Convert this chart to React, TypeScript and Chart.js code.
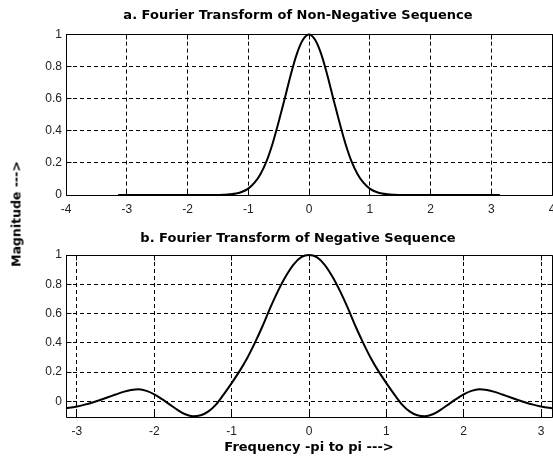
import React, { useEffect, useRef } from "react";
import { Chart, registerables } from "chart.js";

Chart.register(...registerables);

const titleA = "a. Fourier Transform of Non-Negative Sequence";
const titleB = "b. Fourier Transform of Negative Sequence";
const yLabel = "Magnitude --->";
const xLabel = "Frequency -pi to pi --->";

const topXTicks = [-4, -3, -2, -1, 0, 1, 2, 3, 4];
const topYTicks = [0, 0.2, 0.4, 0.6, 0.8, 1];
const bottomXTicks = [-3, -2, -1, 0, 1, 2, 3];
const bottomYTicks = [0, 0.2, 0.4, 0.6, 0.8, 1];

const topFreq = [
  -3.1416, -3.0, -2.5, -2.0, -1.5, -1.4, -1.3, -1.2, -1.1, -1.0, -0.9, -0.8, -0.7, -0.6, -0.5, -0.4, -0.3, -0.2, -0.1,
  0,
  0.1, 0.2, 0.3, 0.4, 0.5, 0.6, 0.7, 0.8, 0.9, 1.0, 1.1, 1.2, 1.3, 1.4, 1.5, 2.0, 2.5, 3.0, 3.1416,
];
const topMag = [
  0, 0, 0, 0, 0, 0.0015, 0.004, 0.009, 0.02, 0.04, 0.075, 0.13, 0.21, 0.32, 0.455, 0.6, 0.75, 0.88, 0.968,
  1,
  0.968, 0.88, 0.75, 0.6, 0.455, 0.32, 0.21, 0.13, 0.075, 0.04, 0.02, 0.009, 0.004, 0.0015, 0, 0, 0, 0, 0,
];

const bottomFreq = [
  -3.1416, -3.1, -3.0, -2.9, -2.8, -2.7, -2.6, -2.5, -2.4, -2.3, -2.2, -2.1, -2.0, -1.9, -1.8, -1.7, -1.6, -1.5,
  -1.4, -1.3, -1.2, -1.1, -1.0, -0.9, -0.8, -0.7, -0.6, -0.5, -0.4, -0.3, -0.2, -0.1,
  0,
  0.1, 0.2, 0.3, 0.4, 0.5, 0.6, 0.7, 0.8, 0.9, 1.0, 1.1, 1.2, 1.3, 1.4, 1.5, 1.6, 1.7, 1.8, 1.9, 2.0, 2.1, 2.2,
  2.3, 2.4, 2.5, 2.6, 2.7, 2.8, 2.9, 3.0, 3.1, 3.1416,
];
const bottomMag = [
  -0.046, -0.044, -0.035, -0.022, -0.007, 0.01, 0.028, 0.047, 0.065, 0.078, 0.083, 0.072, 0.048, 0.015, -0.022,
  -0.058, -0.088, -0.102, -0.095, -0.068, -0.02, 0.05, 0.125, 0.205, 0.295, 0.4, 0.515, 0.64, 0.755, 0.855, 0.935,
  0.985,
  1.0,
  0.985, 0.935, 0.855, 0.755, 0.64, 0.515, 0.4, 0.295, 0.205, 0.125, 0.05, -0.02, -0.068, -0.095, -0.102, -0.088,
  -0.058, -0.022, 0.015, 0.048, 0.072, 0.083, 0.078, 0.065, 0.047, 0.028, 0.01, -0.007, -0.022, -0.035, -0.044,
  -0.046,
];

const TICK_FONT = { family: "Liberation Sans", size: 12 };
const BOLD_FONT = { family: "DejaVu Sans", size: 13, weight: "bold" as const };

const align = (p: number) => Math.round(p - 0.5) + 0.5;

const boxPlugin = {
  id: "matlabBox",
  afterLayout(chart: any) {
    const tb = chart.titleBlock;
    if (tb) {
      tb.left = 44;
      tb.right = chart.chartArea.right;
    }
  },
  afterDatasetsDraw(chart: any) {
    const { ctx, chartArea } = chart;
    const L = align(chartArea.left);
    const R = align(chartArea.right);
    const T = align(chartArea.top);
    const B = align(chartArea.bottom);
    const len = 5;
    ctx.save();
    ctx.strokeStyle = "#000";
    ctx.lineWidth = 1;
    ctx.setLineDash([]);
    ctx.beginPath();
    ctx.rect(L, T, R - L, B - T);
    const xs = chart.scales.x;
    xs.ticks.forEach((t: any) => {
      const px = align(xs.getPixelForValue(t.value));
      ctx.moveTo(px, B);
      ctx.lineTo(px, B - len);
      ctx.moveTo(px, T);
      ctx.lineTo(px, T + len);
    });
    const ys = chart.scales.y;
    ys.ticks.forEach((t: any) => {
      const py = align(ys.getPixelForValue(t.value));
      ctx.moveTo(L, py);
      ctx.lineTo(L + len, py);
      ctx.moveTo(R, py);
      ctx.lineTo(R - len, py);
    });
    ctx.stroke();
    ctx.restore();
  },
};

type PanelCfg = {
  freq: number[];
  mag: number[];
  xMin: number;
  xMax: number;
  yMin: number;
  yMax: number;
  xTicks: number[];
  yTicks: number[];
  title: string;
  titlePadTop: number;
  titlePadBottom: number;
  xAxisHeight: number;
  xTitle?: string;
};

function buildConfig(p: PanelCfg): any {
  return {
    type: "line",
    data: {
      datasets: [
        {
          data: p.freq.map((f, i) => ({ x: f, y: p.mag[i] })),
          borderColor: "#000",
          borderWidth: 2,
          pointRadius: 0,
          fill: false,
          cubicInterpolationMode: "monotone",
          clip: false,
        },
      ],
    },
    options: {
      animation: false,
      responsive: false,
      maintainAspectRatio: false,
      events: [],
      layout: { padding: { left: 0, right: 28, top: 0, bottom: 0 } },
      plugins: {
        legend: { display: false },
        tooltip: { enabled: false },
        title: {
          display: true,
          text: p.title,
          color: "#000",
          font: BOLD_FONT,
          padding: { top: p.titlePadTop, bottom: p.titlePadBottom },
        },
      },
      scales: {
        x: {
          type: "linear",
          min: p.xMin,
          max: p.xMax,
          afterBuildTicks: (s: any) => {
            s.ticks = p.xTicks.map((v) => ({ value: v }));
          },
          afterFit: (s: any) => {
            s.height = p.xAxisHeight;
          },
          grid: { color: "#000", lineWidth: 1, drawTicks: false },
          border: { display: false, dash: [4, 3] },
          ticks: {
            padding: 7,
            color: "#222",
            font: TICK_FONT,
            maxRotation: 0,
            autoSkip: false,
            callback: (v: any) => String(v),
          },
          title: p.xTitle
            ? { display: true, text: p.xTitle, color: "#000", font: BOLD_FONT, padding: { top: 0, bottom: 6 } }
            : { display: false },
        },
        y: {
          type: "linear",
          min: p.yMin,
          max: p.yMax,
          afterBuildTicks: (s: any) => {
            s.ticks = p.yTicks.map((v) => ({ value: v }));
          },
          afterFit: (s: any) => {
            s.width = 66;
          },
          grid: { color: "#000", lineWidth: 1, drawTicks: false },
          border: { display: false, dash: [4, 3] },
          ticks: {
            padding: 4,
            color: "#222",
            font: TICK_FONT,
            autoSkip: false,
            callback: (v: any) => String(v),
          },
        },
      },
    },
    plugins: [boxPlugin],
  };
}

export default function App() {
  const topRef = useRef<HTMLCanvasElement>(null);
  const bottomRef = useRef<HTMLCanvasElement>(null);

  useEffect(() => {
    const top = new Chart(
      topRef.current as HTMLCanvasElement,
      buildConfig({
        freq: topFreq,
        mag: topMag,
        xMin: -4,
        xMax: 4,
        yMin: 0,
        yMax: 1,
        xTicks: topXTicks,
        yTicks: topYTicks,
        title: titleA,
        titlePadTop: 8,
        titlePadBottom: 11,
        xAxisHeight: 25,
      })
    );
    const bottom = new Chart(
      bottomRef.current as HTMLCanvasElement,
      buildConfig({
        freq: bottomFreq,
        mag: bottomMag,
        xMin: -Math.PI,
        xMax: Math.PI,
        yMin: -0.11,
        yMax: 1,
        xTicks: bottomXTicks,
        yTicks: bottomYTicks,
        title: titleB,
        titlePadTop: 11,
        titlePadBottom: 8.4,
        xAxisHeight: 43.5,
        xTitle: xLabel,
      })
    );
    return () => {
      top.destroy();
      bottom.destroy();
    };
  }, []);

  return (
    <div
      style={{
        position: "fixed",
        left: 0,
        top: 0,
        width: 553,
        height: 461,
        overflow: "hidden",
        background: "#fff",
      }}
    >
      <canvas
        ref={topRef}
        width={580}
        height={220}
        style={{ position: "absolute", left: 0, top: 0, width: 580, height: 220 }}
      />
      <canvas
        ref={bottomRef}
        width={580}
        height={241}
        style={{ position: "absolute", left: 0, top: 220, width: 580, height: 241 }}
      />
      <div
        style={{
          position: "absolute",
          left: 16,
          top: 214,
          transform: "translate(-50%, -50%) rotate(-90deg)",
          whiteSpace: "nowrap",
          fontFamily: "DejaVu Sans",
          fontWeight: "bold",
          fontSize: 12.5,
          lineHeight: "15px",
          color: "#000",
        }}
      >
        {yLabel}
      </div>
    </div>
  );
}
